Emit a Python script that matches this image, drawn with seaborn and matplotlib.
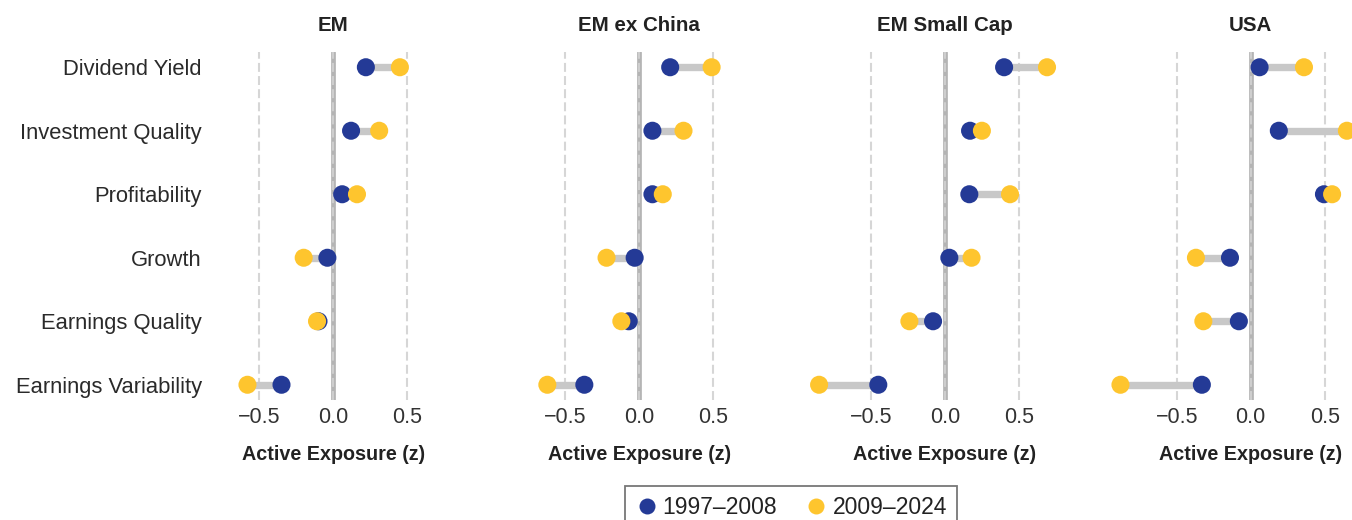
import matplotlib
matplotlib.use("Agg")
import matplotlib.pyplot as plt
from matplotlib.lines import Line2D
import numpy as np
import pandas as pd
import seaborn as sns

# Factor exposures by universe and period
factors = ["Dividend Yield", "Investment Quality", "Profitability",
           "Growth", "Earnings Quality", "Earnings Variability"]
universes = ["EM", "EM ex China", "EM Small Cap", "USA"]
periods = ["1997\u20132008", "2009\u20132024"]

em_early = [0.22, 0.12, 0.06, -0.04, -0.10, -0.35]
em_late = [0.45, 0.31, 0.16, -0.20, -0.11, -0.58]
emxc_early = [0.21, 0.09, 0.09, -0.03, -0.07, -0.37]
emxc_late = [0.49, 0.30, 0.16, -0.22, -0.12, -0.62]
emsc_early = [0.40, 0.17, 0.165, 0.03, -0.08, -0.45]
emsc_late = [0.69, 0.25, 0.44, 0.18, -0.24, -0.85]
usa_early = [0.06, 0.19, 0.495, -0.14, -0.08, -0.33]
usa_late = [0.36, 0.65, 0.55, -0.37, -0.32, -0.88]

series = {
    "EM": (em_early, em_late),
    "EM ex China": (emxc_early, emxc_late),
    "EM Small Cap": (emsc_early, emsc_late),
    "USA": (usa_early, usa_late),
}

xticks = [-0.5, 0.0, 0.5]
xtick_labels = ["\u22120.5", "0.0", "0.5"]

BLUE = "#243a96"
YELLOW = "#fec52e"
palette = {periods[0]: BLUE, periods[1]: YELLOW}

sns.set_theme(style="white")
plt.rcParams["font.family"] = ["Liberation Sans", "DejaVu Sans"]
plt.rcParams["text.color"] = "#222222"

W, H = 1352, 520
fig = plt.figure(figsize=(W / 100, H / 100), dpi=100)

xlim = (-0.85, 0.85)
px_per_unit = 148.0
ax_w = (xlim[1] - xlim[0]) * px_per_unit
zero_x = [333.3 + 305.8 * i for i in range(4)]
ax_top, ax_bot = 52, 400

for i, name in enumerate(universes):
    left = zero_x[i] + xlim[0] * px_per_unit
    ax = fig.add_axes([left / W, (H - ax_bot) / H, ax_w / W, (ax_bot - ax_top) / H])

    early, late = series[name]
    df = pd.DataFrame({
        "factor": factors * 2,
        "value": list(early) + list(late),
        "period": [periods[0]] * len(factors) + [periods[1]] * len(factors),
    })

    # reference lines
    ax.axvline(0, color="#b4b4b4", lw=3.4, zorder=0.5)
    for xv in xticks:
        ax.axvline(xv, color="#d2d2d2", lw=1.5, dashes=(4.3, 2.0), zorder=0.6, alpha=0.9)

    # connectors between periods
    pos = np.arange(len(factors))
    ax.hlines(pos, np.minimum(early, late), np.maximum(early, late),
              color="#c8c8c8", lw=5.3, zorder=1.5)

    sns.stripplot(data=df, x="value", y="factor", hue="period", order=factors,
                  hue_order=periods, palette=palette, jitter=False, size=13,
                  linewidth=0, legend=False, ax=ax, zorder=3, clip_on=False)

    ax.set_xlim(*xlim)
    ax.set_ylim(5.24, -0.24)
    ax.set_xticks(xticks)
    ax.set_xticklabels(xtick_labels, fontsize=15.5, color="#333333")
    ax.tick_params(axis="both", length=0)
    ax.tick_params(axis="x", pad=5)
    ax.set_xlabel("Active Exposure (z)", fontsize=14.2, fontweight="bold",
                  color="#222222", labelpad=12)
    ax.set_ylabel("")
    if i == 0:
        ax.tick_params(axis="y", pad=4, labelsize=15.8, labelcolor="#2a2a2a")
    else:
        ax.set_yticklabels([])
    ax.set_title(name, fontsize=14.8, fontweight="bold", color="#222222", pad=15)
    for s in ax.spines.values():
        s.set_visible(False)
    ax.grid(False)

handles = [Line2D([], [], marker="o", linestyle="", markersize=11.5,
                  markerfacecolor=palette[p], markeredgewidth=0, label=p)
           for p in periods]
leg = fig.legend(handles=handles, loc="upper center",
                 bbox_to_anchor=(791 / W, (H - 486) / H), ncol=2,
                 fontsize=16.5, frameon=True, fancybox=False,
                 handletextpad=0.2, columnspacing=1.2, borderpad=0.45,
                 handlelength=1.0, borderaxespad=0)
leg.get_frame().set_edgecolor("#555555")
leg.get_frame().set_linewidth(1.3)

fig.savefig("out.png", dpi=100)
